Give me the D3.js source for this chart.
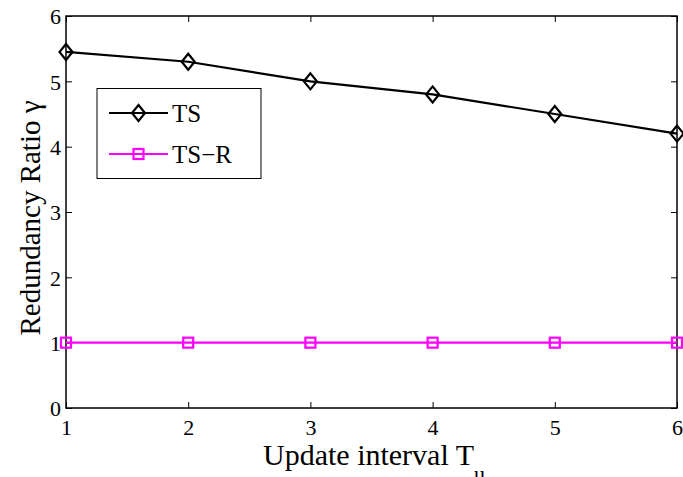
<!DOCTYPE html>
<html>
<head>
<meta charset="utf-8">
<script src="https://cdn.jsdelivr.net/npm/d3@7"></script>
<style>
  body { margin: 0; background: #fff; }
  svg text { font-family: 'Liberation Serif', 'DejaVu Serif', serif !important; fill: #000; }
</style>
</head>
<body>
<svg id="chart" width="683" height="477" font-family="Liberation Serif"></svg>
<script>
// data
var intervals = [1, 2, 3, 4, 5, 6];
var tsValues = [5.45, 5.3, 5.0, 4.8, 4.5, 4.2];
var tsrValues = [1, 1, 1, 1, 1, 1];
var yTicks = [0, 1, 2, 3, 4, 5, 6];
var seriesNames = ['TS', 'TS\u2212R'];

var box = { left: 66, right: 677, top: 16, bottom: 408 };

var svg = d3.select('#chart');

var x = d3.scaleLinear().domain([1, 6]).range([box.left, box.right]);
var y = d3.scaleLinear().domain([0, 6]).range([box.bottom, box.top]);

// axes: ticks point inward, mirrored on top/right
var gAxes = svg.append('g');

function styleAxis(g) {
  g.attr('font-family', null).attr('font-size', null);
  g.select('.domain').remove();
  g.selectAll('line').attr('stroke', '#000').attr('stroke-width', 1);
  g.selectAll('text').style('font-size', '22px');
}

gAxes.append('g')
  .attr('transform', 'translate(0,' + box.bottom + ')')
  .call(d3.axisBottom(x).tickValues(intervals).tickFormat(d3.format('d')).tickSize(-6).tickPadding(11))
  .call(styleAxis)
  .selectAll('text').attr('dy', '0.71em');

gAxes.append('g')
  .attr('transform', 'translate(' + box.left + ',0)')
  .call(d3.axisLeft(y).tickValues(yTicks).tickFormat(d3.format('d')).tickSize(-6).tickPadding(5))
  .call(styleAxis)
  .selectAll('text').attr('dy', '0.35em');

gAxes.append('g')
  .attr('transform', 'translate(0,' + box.top + ')')
  .call(d3.axisTop(x).tickValues(intervals).tickFormat('').tickSize(-6))
  .call(styleAxis);

gAxes.append('g')
  .attr('transform', 'translate(' + box.right + ',0)')
  .call(d3.axisRight(y).tickValues(yTicks).tickFormat('').tickSize(-6))
  .call(styleAxis);

// frame
svg.append('rect')
  .attr('x', box.left).attr('y', box.top)
  .attr('width', box.right - box.left).attr('height', box.bottom - box.top)
  .attr('fill', 'none').attr('stroke', '#000').attr('stroke-width', 1.5);

var line = d3.line().x(function(d, i) { return x(intervals[i]); }).y(function(d) { return y(d); });

var diamond = 'M0,-8L6.5,0L0,8L-6.5,0Z';

// TS-R
svg.append('path').datum(tsrValues)
  .attr('d', line).attr('fill', 'none').attr('stroke', '#ff00ff').attr('stroke-width', 2.2);
svg.selectAll('.sq').data(tsrValues).enter().append('rect')
  .attr('x', function(d, i) { return x(intervals[i]) - 5; })
  .attr('y', function(d) { return y(d) - 5; })
  .attr('width', 10).attr('height', 10)
  .attr('fill', 'none').attr('stroke', '#ff00ff').attr('stroke-width', 2.2);

// TS
svg.append('path').datum(tsValues)
  .attr('d', line).attr('fill', 'none').attr('stroke', '#000').attr('stroke-width', 2.2);
svg.selectAll('.dm').data(tsValues).enter().append('path')
  .attr('d', diamond)
  .attr('transform', function(d, i) { return 'translate(' + x(intervals[i]) + ',' + y(d) + ')'; })
  .attr('fill', 'none').attr('stroke', '#000').attr('stroke-width', 2.2);

// legend
var leg = svg.append('g');
leg.append('rect')
  .attr('x', 97).attr('y', 88.5).attr('width', 164).attr('height', 90)
  .attr('fill', '#fff').attr('stroke', '#000').attr('stroke-width', 1);

var legRows = [
  { name: seriesNames[0], y: 113, color: '#000' },
  { name: seriesNames[1], y: 154, color: '#ff00ff' }
];
legRows.forEach(function(r, i) {
  leg.append('line').attr('x1', 109).attr('x2', 168).attr('y1', r.y).attr('y2', r.y)
    .attr('stroke', r.color).attr('stroke-width', 2.2);
  if (i === 0) {
    leg.append('path').attr('d', diamond).attr('transform', 'translate(138.5,' + r.y + ')')
      .attr('fill', 'none').attr('stroke', r.color).attr('stroke-width', 2.2);
  } else {
    leg.append('rect').attr('x', 133.5).attr('y', r.y - 5).attr('width', 10).attr('height', 10)
      .attr('fill', 'none').attr('stroke', r.color).attr('stroke-width', 2.2);
  }
  leg.append('text').attr('x', 172).attr('y', r.y).attr('dy', '0.35em')
    .style('font-size', '25px').text(r.name);
});

// axis titles
var xt = svg.append('text')
  .attr('x', 263).attr('y', 465)
  .style('font-size', '30px');
xt.append('tspan').text('Update interval T');
xt.append('tspan').attr('dy', 16).style('font-size', '22px').text('u');

svg.append('text')
  .attr('transform', 'translate(40,218) rotate(-90)')
  .attr('text-anchor', 'middle')
  .style('font-size', '29px')
  .text('Redundancy Ratio \u03b3');
</script>
</body>
</html>
